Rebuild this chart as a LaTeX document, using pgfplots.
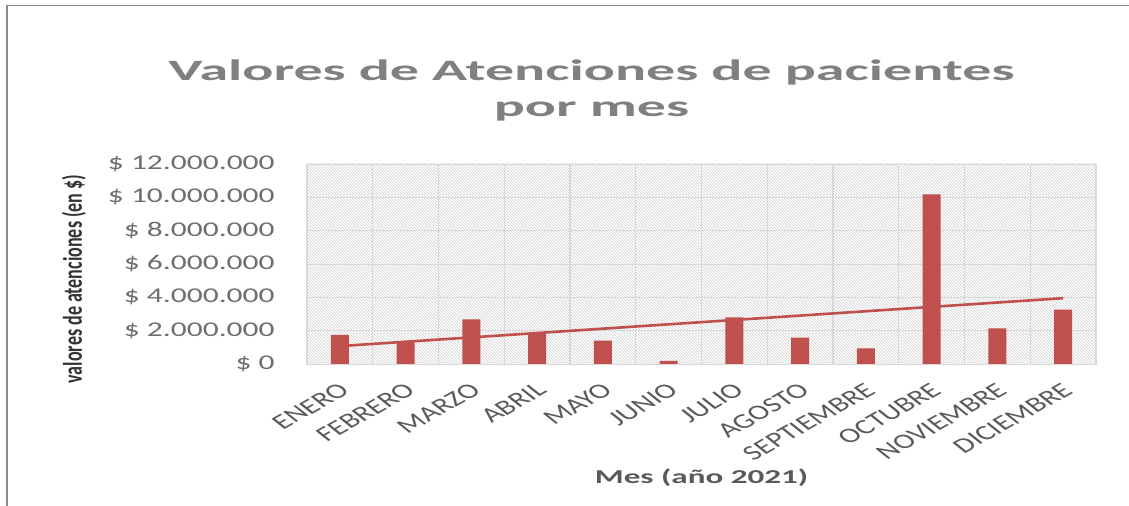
\documentclass[border=0pt]{standalone}
\usepackage{graphicx}
\usepackage{fontspec}
\setmainfont{Carlito}
\newfontfamily\titlefont[FakeStretch=1.31]{Carlito}
\newfontfamily\axtitlefont[FakeStretch=1.12]{Carlito}
\usepackage{pgfplots}
\pgfplotsset{compat=1.18}
\usetikzlibrary{patterns}

\definecolor{barred}{HTML}{C0504D}
\definecolor{gridgray}{HTML}{D9D9D9}
\definecolor{framegray}{HTML}{8C8C8C}
\definecolor{titlegray}{HTML}{808080}
\definecolor{ytickgray}{HTML}{6E6E6E}
\definecolor{xtickgray}{HTML}{5A5A5A}
\definecolor{labgray}{HTML}{333333}

% monthly values (pesos)
\pgfplotstableread{
x  val
1  1740000
2  1340000
3  2680000
4  1900000
5  1400000
6  180000
7  2800000
8  1580000
9  940000
10 10180000
11 2140000
12 3260000
}\meses

\begin{document}
\scalebox{1.5}[1]{%
\begin{tikzpicture}
\useasboundingbox (0,0) rectangle (752.67pt,506pt);
\draw[line width=1pt, framegray] (4.7pt,0) -- (4.7pt,500pt) -- (752.67pt,500pt);
\begin{axis}[
  at={(204.7pt,142pt)}, anchor=south west,
  scale only axis, width=526pt, height=200pt,
  xmin=0.5, xmax=12.5, ymin=0, ymax=12000000,
  xtick={1,2,3,4,5,6,7,8,9,10,11,12},
  xticklabels={ENERO,FEBRERO,MARZO,ABRIL,MAYO,JUNIO,JULIO,AGOSTO,SEPTIEMBRE,OCTUBRE,NOVIEMBRE,DICIEMBRE},
  minor xtick={1.5,2.5,3.5,4.5,5.5,6.5,7.5,8.5,9.5,10.5,11.5},
  ytick={0,2000000,4000000,6000000,8000000,10000000,12000000},
  yticklabels={\$ 0,\$ 2.000.000,\$ 4.000.000,\$ 6.000.000,\$ 8.000.000,\$ 10.000.000,\$ 12.000.000},
  scaled y ticks=false,
  ymajorgrids, xminorgrids,
  grid style={gridgray, line width=0.8pt},
  minor grid style={gridgray, line width=0.8pt},
  axis line style={gridgray, line width=0.8pt},
  tick style={draw=none},
  major tick length=0pt, minor tick length=0pt,
  axis background/.style={pattern=north west lines, pattern color=black!20},
  yticklabel style={font=\fontsize{21}{24}\selectfont, text=ytickgray, anchor=east, inner sep=0pt},
  yticklabel shift=21.4pt,
  xticklabel style={font=\fontsize{21}{24}\selectfont, text=xtickgray, xshift=-1.4pt, rotate=40, anchor=north east, inner sep=0pt},
  xticklabel shift=17.7pt,
  xlabel={Mes (año 2021)},
  xlabel style={font=\axtitlefont\bfseries\fontsize{19.7}{22}\selectfont, text=xtickgray, at={(axis description cs:0.5,-0.6)}, anchor=base},
  ylabel={valores de atenciones (en \$)},
  ylabel style={font=\bfseries\fontsize{18}{20}\selectfont, text=labgray, at={(axis description cs:-0.2954,0.425)}, anchor=center},
  title={Valores de Atenciones de pacientes\\por mes},
  title style={font=\titlefont\bfseries\fontsize{29.5}{36}\selectfont, text=titlegray, align=center, at={(axis description cs:0.3605,1.492)}, anchor=north, inner sep=0pt},
]
\addplot[ybar, bar width=12pt, fill=barred, draw=none] table[x=x, y=val] {\meses};
% linear trend
\addplot[barred, line width=2.6pt, no marks] coordinates {(1,1074000) (12,3950000)};
\end{axis}
\end{tikzpicture}}
\end{document}
